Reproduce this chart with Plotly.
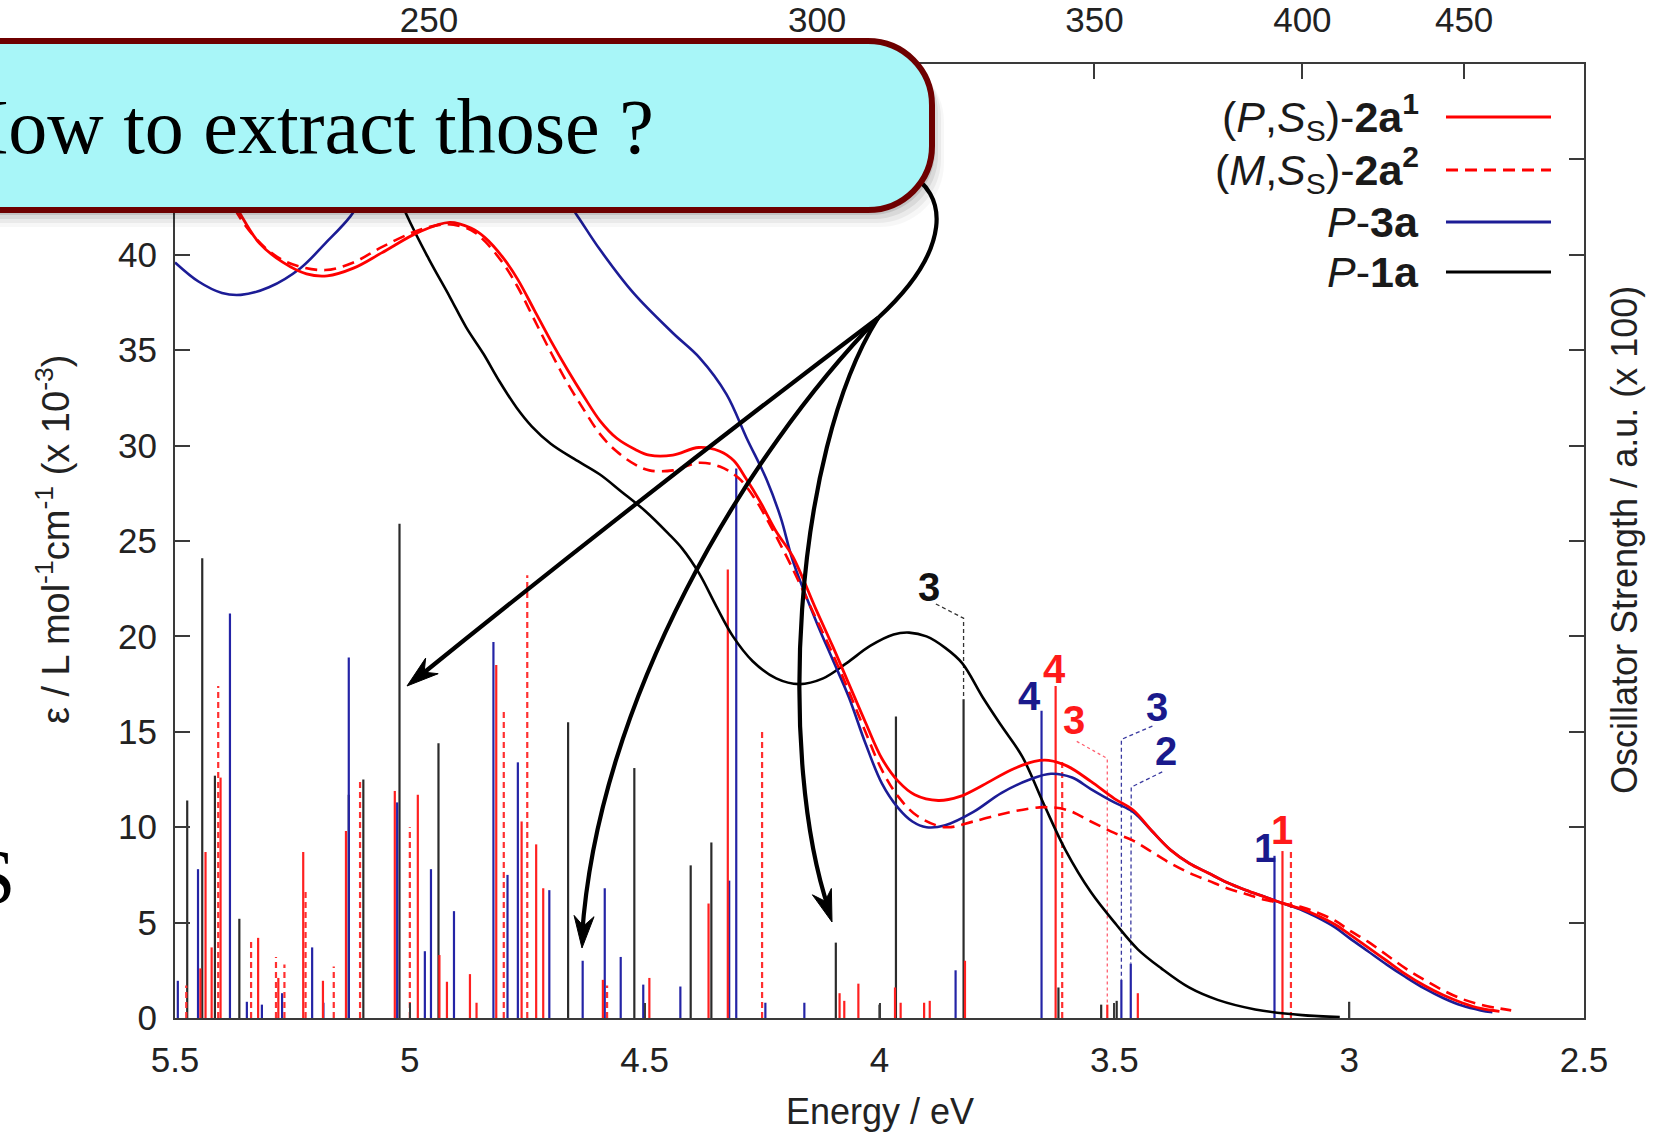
import math
import plotly.graph_objects as go

# ---------------- data ----------------
# absorption spectra: energy (eV) and epsilon (x 10^-3)
red_curve_E = [5.45, 5.40, 5.36, 5.32, 5.27, 5.22, 5.176, 5.12, 5.06, 4.98, 4.915, 4.87, 4.84, 4.80, 4.77,
               4.735, 4.70, 4.665, 4.63, 4.595, 4.56, 4.52, 4.49, 4.44, 4.385, 4.34, 4.31, 4.285, 4.255,
               4.22, 4.185, 4.135, 4.10, 4.065, 4.03, 3.995, 3.96, 3.925, 3.875, 3.83, 3.78, 3.72, 3.67,
               3.64, 3.60, 3.55, 3.50, 3.46, 3.42, 3.38, 3.34, 3.30, 3.26, 3.22, 3.18, 3.14, 3.10, 3.07,
               3.03, 3.00, 2.96, 2.92, 2.88, 2.84, 2.80, 2.76, 2.72, 2.68]
red_curve_eps = [47.5, 44.0, 42.1, 40.6, 39.6, 39.0, 38.9, 39.3, 40.1, 41.2, 41.7, 41.4, 40.9, 39.8, 38.7,
                 37.1, 35.5, 34.0, 32.6, 31.3, 30.4, 29.8, 29.5, 29.5, 29.9, 29.7, 29.2, 28.3, 27.1,
                 25.5, 24.2, 21.4, 19.5, 17.5, 15.5, 13.6, 12.4, 11.7, 11.4, 11.6, 12.2, 13.0, 13.45,
                 13.5, 13.2, 12.4, 11.5, 10.9, 9.8, 8.8, 8.1, 7.6, 7.1, 6.7, 6.35, 6.0, 5.7, 5.4,
                 4.9, 4.4, 3.7, 3.0, 2.3, 1.7, 1.2, 0.8, 0.5, 0.35]

reddash_curve_E = [5.45, 5.40, 5.355, 5.30, 5.25, 5.18, 5.12, 5.06, 4.98, 4.92, 4.87, 4.84, 4.80, 4.77,
                   4.735, 4.70, 4.665, 4.63, 4.595, 4.56, 4.52, 4.49, 4.44, 4.385, 4.34, 4.30, 4.265,
                   4.23, 4.19, 4.14, 4.10, 4.065, 4.03, 3.995, 3.96, 3.92, 3.86, 3.80, 3.72, 3.65, 3.60,
                   3.55, 3.50, 3.46, 3.42, 3.38, 3.34, 3.30, 3.26, 3.22, 3.18, 3.14, 3.10, 3.07, 3.03,
                   3.00, 2.96, 2.92, 2.88, 2.84, 2.80, 2.76, 2.72, 2.68, 2.655]
reddash_curve_eps = [47.0, 43.8, 41.7, 40.2, 39.5, 39.2, 39.6, 40.4, 41.3, 41.6, 41.3, 40.7, 39.5, 38.3,
                     36.6, 34.9, 33.3, 31.9, 30.6, 29.7, 29.0, 28.7, 28.7, 29.1, 28.9, 28.3, 27.2,
                     25.7, 23.8, 21.2, 19.1, 17.1, 15.0, 13.0, 11.6, 10.6, 10.0, 10.3, 10.8, 11.05, 10.9,
                     10.3, 9.7, 9.3, 8.7, 8.1, 7.6, 7.2, 6.8, 6.5, 6.2, 6.0, 5.8, 5.55, 5.1,
                     4.6, 4.0, 3.3, 2.6, 2.0, 1.45, 1.0, 0.7, 0.5, 0.4]

blue_curve_E = [5.5, 5.45, 5.40, 5.36, 5.30, 5.233, 5.18, 5.127, 5.08, 5.0, 4.9, 4.8, 4.70, 4.645, 4.596,
                4.524, 4.44, 4.383, 4.326, 4.283, 4.24, 4.21, 4.185, 4.135, 4.10, 4.065, 4.03, 3.995,
                3.96, 3.93, 3.90, 3.86, 3.80, 3.74, 3.68, 3.635, 3.59, 3.55, 3.50, 3.46, 3.42, 3.38,
                3.34, 3.30, 3.26, 3.22, 3.18, 3.14, 3.10, 3.07, 3.03, 3.00, 2.96, 2.92, 2.88, 2.84,
                2.80, 2.76, 2.72, 2.695]
blue_curve_eps = [39.6, 38.6, 38.0, 37.9, 38.3, 39.3, 40.6, 42.0, 43.8, 46.0, 47.5, 46.5, 44.0, 42.1, 40.3,
                  38.0, 35.9, 34.6, 32.7, 30.4, 28.2, 26.2, 24.0, 20.8, 18.8, 16.8, 14.4, 12.3,
                  11.0, 10.3, 10.0, 10.1, 10.8, 11.8, 12.5, 12.8, 12.6, 12.0, 11.3, 10.8, 9.8, 8.8,
                  8.1, 7.6, 7.1, 6.7, 6.35, 6.0, 5.65, 5.3, 4.75, 4.2, 3.5, 2.8, 2.15, 1.55,
                  1.05, 0.65, 0.4, 0.3]

black_curve_E = [5.30, 5.10, 5.007, 4.96, 4.915, 4.88, 4.843, 4.81, 4.773, 4.74, 4.70, 4.65, 4.596, 4.55,
                 4.50, 4.45, 4.42, 4.384, 4.348, 4.312, 4.27, 4.22, 4.171, 4.12, 4.07, 4.02, 3.97,
                 3.937, 3.90, 3.86, 3.824, 3.78, 3.74, 3.696, 3.65, 3.604, 3.55, 3.496, 3.45, 3.40,
                 3.341, 3.28, 3.20, 3.10, 3.02]
black_curve_eps = [55.0, 47.5, 42.1, 39.8, 37.8, 36.2, 34.8, 33.4, 32.0, 31.0, 30.1, 29.3, 28.5, 27.6,
                   26.6, 25.4, 24.6, 23.3, 21.6, 20.0, 18.7, 17.8, 17.5, 17.8, 18.6, 19.5, 20.1,
                   20.2, 20.0, 19.4, 18.6, 16.8, 15.3, 13.7, 11.2, 8.8, 6.6, 4.9, 3.6, 2.6,
                   1.6, 0.95, 0.45, 0.15, 0.05]

# computed transitions (sticks): energy (eV) and oscillator strength (plotted on the left scale)
black_E = [5.474, 5.442, 5.415, 5.363, 5.130, 5.099, 5.022, 4.939, 4.663, 4.522, 4.402, 4.358, 4.093,
           4.000, 3.965, 3.821, 3.619, 3.528, 3.495, 3.000]
black_f = [11.4, 24.1, 12.7, 5.2, 11.7, 12.5, 25.9, 14.4, 15.5, 13.1, 8.0, 9.2, 3.95,
           0.7, 15.8, 16.7, 1.6, 0.7, 0.9, 0.85]

blue_E = [5.494, 5.451, 5.383, 5.347, 5.315, 5.272, 5.208, 5.184, 5.130, 5.027, 4.968, 4.955, 4.906,
          4.822, 4.792, 4.770, 4.703, 4.632, 4.585, 4.551, 4.503, 4.424, 4.320, 4.305, 4.243, 4.160,
          3.838, 3.655, 3.485, 3.465, 3.159]
blue_f = [1.95, 7.8, 21.2, 0.85, 0.7, 1.3, 3.7, 0.8, 18.9, 11.3, 3.5, 7.8, 5.6,
          19.7, 7.5, 13.4, 6.7, 3.0, 6.8, 3.2, 1.75, 1.65, 7.2, 28.8, 0.8, 0.8,
          2.5, 16.1, 2.0, 2.85, 8.5]

red_E = [5.446, 5.435, 5.422, 5.403, 5.323, 5.280, 5.227, 5.185, 5.136, 5.032, 4.983, 4.937, 4.921,
         4.872, 4.858, 4.816, 4.762, 4.731, 4.716, 4.589, 4.490, 4.364, 4.323, 4.085, 4.075, 4.045,
         3.967, 3.955, 3.905, 3.893, 3.818, 3.625, 3.515, 3.450, 3.142]
red_f = [2.6, 8.7, 3.7, 12.6, 4.2, 2.1, 8.7, 1.95, 9.8, 11.9, 11.7, 3.3, 1.9,
         2.3, 0.8, 18.5, 10.3, 9.1, 6.8, 2.0, 2.1, 6.0, 23.5, 1.3, 0.9, 1.8,
         1.6, 0.8, 0.8, 0.9, 3.0, 17.4, 0.7, 1.3, 8.75]

reddash_E = [5.476, 5.408, 5.338, 5.285, 5.267, 5.222, 5.162, 5.106, 5.000, 4.800, 4.750, 4.580,
             4.250, 3.611, 3.124]
reddash_f = [1.7, 17.4, 4.1, 3.2, 2.8, 6.8, 2.7, 12.4, 10.0, 16.1, 23.2, 1.7,
             15.2, 13.5, 8.75]

# numbered state labels
label_text = ["3", "4", "4", "3", "3", "2", "1", "1"]
label_E = [3.894, 3.628, 3.681, 3.585, 3.409, 3.391, 3.180, 3.142]
label_y = [22.6, 18.3, 16.9, 15.6, 16.3, 14.0, 8.9, 9.85]
label_color = ["#111111", "#ff1a1a", "#1a1a8c", "#ff1a1a", "#1a1a8c", "#1a1a8c", "#1a1a8c", "#ff1a1a"]

# leader lines for labels (energy, value)
leader_black_E = [3.880, 3.821, 3.821]
leader_black_y = [21.7, 20.95, 16.7]
leader_red3_E = [3.580, 3.515, 3.515]
leader_red3_y = [14.5, 13.6, 0.7]
leader_blue3_E = [3.419, 3.485, 3.485]
leader_blue3_y = [15.3, 14.6, 2.0]
leader_blue2_E = [3.398, 3.464, 3.465]
leader_blue2_y = [12.9, 12.1, 2.85]

x_ticks = [5.5, 5.0, 4.5, 4.0, 3.5, 3.0, 2.5]
x_tick_labels = ["5.5", "5", "4.5", "4", "3.5", "3", "2.5"]
y_ticks = [0, 5, 10, 15, 20, 25, 30, 35, 40, 45, 50]
wl_ticks = [250, 300, 350, 400, 450]  # nm on the top axis

legend_names = ["(<i>P</i>,<i>S</i><sub>S</sub>)-<b>2a</b><sup><b>1</b></sup>",
                "(<i>M</i>,<i>S</i><sub>S</sub>)-<b>2a</b><sup><b>2</b></sup>",
                "<i>P</i>-<b>3a</b>",
                "<i>P</i>-<b>1a</b>"]
legend_colors = ["#ff0000", "#ff0000", "#1c1c96", "#000000"]
legend_dash = [None, "12px,7px", None, None]

# ---------------- geometry ----------------
W, H = 1659, 1135
L, R, T, B = 175, 1584, 64, 1018
SANS = "Liberation Sans, Arial, Helvetica, sans-serif"
SERIF = "Liberation Serif, Times New Roman, serif"


def fx(x):
    return (x - L) / (R - L)


def fy(y):
    return (B - y) / (B - T)


def P(x, y):
    return f"{fx(x):.5f},{fy(y):.5f}"


def sticks(E, v):
    xs, ys = [], []
    for e, h in zip(E, v):
        xs += [e, e, None]
        ys += [0, h, None]
    return xs, ys


fig = go.Figure()

# sticks
for E, v, col, dash in [(black_E, black_f, "#2b2b2b", "solid"),
                        (blue_E, blue_f, "#2424a6", "solid"),
                        (reddash_E, reddash_f, "#ff3030", "6px,4px"),
                        (red_E, red_f, "#ff2020", "solid")]:
    xs, ys = sticks(E, v)
    fig.add_trace(go.Scatter(x=xs, y=ys, mode="lines", line=dict(color=col, width=2.2, dash=dash),
                             hoverinfo="skip", showlegend=False))

# label leaders
for lx, ly, col, dash in [(leader_black_E, leader_black_y, "#333333", "4px,3px"),
                          (leader_red3_E, leader_red3_y, "#ff6070", "3px,3px"),
                          (leader_blue3_E, leader_blue3_y, "#3a3aa0", "4px,3px"),
                          (leader_blue2_E, leader_blue2_y, "#3a3aa0", "4px,3px")]:
    fig.add_trace(go.Scatter(x=lx, y=ly, mode="lines", line=dict(color=col, width=1.3, dash=dash),
                             hoverinfo="skip", showlegend=False))

# spectra
fig.add_trace(go.Scatter(x=black_curve_E, y=black_curve_eps, mode="lines", line_shape="spline",
                         line=dict(color="#000000", width=2.6), showlegend=False))
fig.add_trace(go.Scatter(x=blue_curve_E, y=blue_curve_eps, mode="lines", line_shape="spline",
                         line=dict(color="#1c1c96", width=2.6), showlegend=False))
fig.add_trace(go.Scatter(x=reddash_curve_E, y=reddash_curve_eps, mode="lines", line_shape="spline",
                         line=dict(color="#ff0000", width=2.6, dash="12px,7px"), showlegend=False))
fig.add_trace(go.Scatter(x=red_curve_E, y=red_curve_eps, mode="lines", line_shape="spline",
                         line=dict(color="#ff0000", width=2.8), showlegend=False))

# dummy trace to carry the top / right axes
fig.add_trace(go.Scatter(x=[4.0], y=[0], xaxis="x2", yaxis="y2", mode="markers",
                         marker=dict(opacity=0), hoverinfo="skip", showlegend=False))

axis_common = dict(ticks="inside", ticklen=15, tickwidth=2, tickcolor="#3a3a3a", showline=True,
                   linecolor="#3a3a3a", linewidth=2, showgrid=False, zeroline=False, automargin=False,
                   tickfont=dict(family=SANS, size=35, color="#222222"))

fig.update_layout(
    template="none",
    width=W, height=H,
    margin=dict(l=L, r=W - R, t=T, b=H - B, pad=0, autoexpand=False),
    plot_bgcolor="white", paper_bgcolor="white", showlegend=False,
    xaxis=dict(range=[5.5, 2.5], tickmode="array", tickvals=x_ticks, ticktext=x_tick_labels,
               ticklabelstandoff=10, **axis_common),
    yaxis=dict(range=[0, 50], tickmode="array", tickvals=y_ticks, ticklabelstandoff=9, **axis_common),
    xaxis2=dict(range=[5.5, 2.5], overlaying="x", side="top", anchor="y", tickmode="array",
                tickvals=[1239.84 / w for w in wl_ticks], ticktext=[str(w) for w in wl_ticks],
                ticklabelstandoff=16, **axis_common),
    yaxis2=dict(range=[0, 50], overlaying="y", side="right", anchor="x", tickmode="array",
                tickvals=y_ticks, showticklabels=False, **axis_common),
)

shapes = []


def curve(d, width=4.2, color="black"):
    shapes.append(dict(type="path", xref="paper", yref="paper", path=d,
                       line=dict(color=color, width=width), layer="above"))


def head(tip, frm, length=32, half=10, notch=22):
    dx, dy = tip[0] - frm[0], tip[1] - frm[1]
    n = math.hypot(dx, dy)
    ux, uy = dx / n, dy / n
    px_, py_ = -uy, ux
    bx, by = tip[0] - ux * length, tip[1] - uy * length
    nx, ny = tip[0] - ux * notch, tip[1] - uy * notch
    d = (f"M {P(*tip)} L {P(bx + px_ * half, by + py_ * half)} L {P(nx, ny)} "
         f"L {P(bx - px_ * half, by - py_ * half)} Z")
    shapes.append(dict(type="path", xref="paper", yref="paper", path=d,
                       line=dict(color="black", width=1), fillcolor="black", layer="above"))


hub = (878, 318)
# connector from the callout
curve(f"M {P(905, 172)} C {P(950, 192)} {P(952, 250)} {P(*hub)}")
# arrow A (straight-ish)
tipA = (407, 686)
curve(f"M {P(*hub)} Q {P(650, 490)} {P(tipA[0] + 14, tipA[1] - 11)}")
head(tipA, (650, 490))
# arrow B
tipB = (582, 948)
curve(f"M {P(*hub)} C {P(745, 455)} {P(598, 700)} {P(tipB[0], tipB[1] - 12)}")
head(tipB, (598, 700))
# arrow C
tipC = (832, 922)
curve(f"M {P(*hub)} C {P(792, 455)} {P(778, 760)} {P(tipC[0] - 3, tipC[1] - 12)}")
head(tipC, (778, 760))


def rbox(x0, y0, x1, y1, r, dx=0, dy=0):
    k = 0.5523 * r
    x0, x1, y0, y1 = x0 + dx, x1 + dx, y0 + dy, y1 + dy
    return (f"M {P(x0, y0)} L {P(x1 - r, y0)} C {P(x1 - r + k, y0)} {P(x1, y0 + r - k)} {P(x1, y0 + r)} "
            f"L {P(x1, y1 - r)} C {P(x1, y1 - r + k)} {P(x1 - r + k, y1)} {P(x1 - r, y1)} "
            f"L {P(x0, y1)} Z")


# shadow of the callout
for ddx, ddy, op in [(3, 5, 0.10), (6, 9, 0.07), (9, 13, 0.05), (12, 17, 0.03)]:
    shapes.append(dict(type="path", xref="paper", yref="paper", path=rbox(-40, 41, 932, 210, 64, ddx, ddy),
                       line=dict(width=0), fillcolor=f"rgba(0,0,0,{op})", layer="above"))
# callout
shapes.append(dict(type="path", xref="paper", yref="paper", path=rbox(-40, 41, 932, 210, 64),
                   line=dict(color="#6e0000", width=6), fillcolor="#a8f6f8", layer="above"))

# legend samples
leg_y = [117, 170, 222, 272]
for yy, col, dash in zip(leg_y, legend_colors, legend_dash):
    shapes.append(dict(type="line", xref="paper", yref="paper", x0=fx(1446), x1=fx(1551),
                       y0=fy(yy), y1=fy(yy), line=dict(color=col, width=3.2, dash=dash or "solid"),
                       layer="above"))

fig.update_layout(shapes=shapes)

ann = []
for t, e, v, c in zip(label_text, label_E, label_y, label_color):
    ann.append(dict(x=e, y=v, xref="x", yref="y", text=f"<b>{t}</b>", showarrow=False,
                    xanchor="center", yanchor="middle",
                    font=dict(family=SANS, size=40, color=c)))
for name, yy in zip(legend_names, leg_y):
    ann.append(dict(x=fx(1421), y=fy(yy), xref="paper", yref="paper", text=name, showarrow=False,
                    xanchor="right", yanchor="middle", font=dict(family=SANS, size=43, color="#1a1a1a")))
ann.append(dict(x=fx(880), y=fy(1111), xref="paper", yref="paper", text="Energy / eV", showarrow=False,
                xanchor="center", yanchor="middle",
                font=dict(family=SANS, size=36, color="#222222")))
ann.append(dict(x=fx(53), y=fy(540), xref="paper", yref="paper", textangle=-90, showarrow=False,
                xanchor="center", yanchor="middle",
                text="ε / L mol<sup>-1</sup>cm<sup>-1</sup> (x 10<sup>-3</sup>)",
                font=dict(family=SANS, size=38, color="#222222")))
ann.append(dict(x=fx(1624), y=fy(540), xref="paper", yref="paper", textangle=-90, showarrow=False,
                xanchor="center", yanchor="middle",
                text="Oscillator Strength / a.u. (x 100)",
                font=dict(family=SANS, size=36, color="#222222")))
ann.append(dict(x=fx(656), y=fy(126), xref="paper", yref="paper", text="How to extract those ?",
                showarrow=False, xanchor="right", yanchor="middle",
                font=dict(family=SERIF, size=78, color="#000000")))
ann.append(dict(x=fx(17), y=fy(876), xref="paper", yref="paper", text="S", showarrow=False,
                xanchor="right", yanchor="middle", font=dict(family=SERIF, size=78, color="#000000")))
fig.update_layout(annotations=ann)

fig.write_html("out.html")
